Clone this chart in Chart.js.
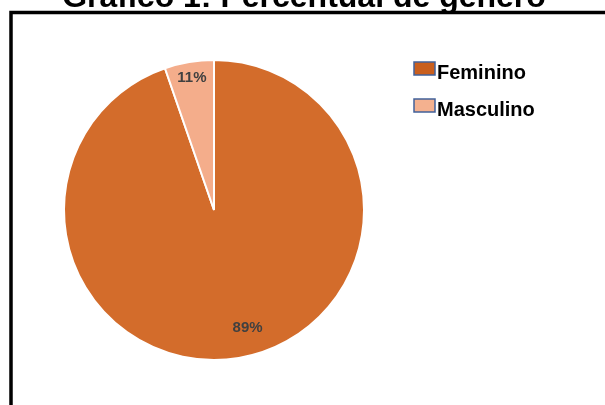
<!DOCTYPE html>
<html lang="pt">
<head>
    <meta charset="UTF-8">
    <title>Gráfico 1: Percentual de gênero</title>
    <script src="https://cdn.jsdelivr.net/npm/chart.js"></script>
    <style>
        html, body { margin: 0; padding: 0; background: #fff; }
        #wrap { position: relative; width: 605px; height: 405px; }
    </style>
</head>
<body>
    <div id="wrap">
        <canvas id="generoChart" width="605" height="405"></canvas>
    </div>

    <script>
        // Data
        const titleText = 'Gráfico 1: Percentual de gênero';
        const categories = ['Feminino', 'Masculino'];
        // slice sizes as drawn (the Masculino wedge is about 19 degrees wide)
        const sliceValues = [94.7, 5.3];
        // percentages printed on the slices
        const percentLabels = ['89%', '11%'];
        const sliceColors = ['#D36C2B', '#F4AD8B'];
        const legendColors = ['#C95F1E', '#F4B18F'];

        // frame, title, legend and slice labels
        const decorPlugin = {
            id: 'decor',
            beforeDraw(chart) {
                const ctx = chart.ctx;
                ctx.save();
                ctx.fillStyle = '#fff';
                ctx.fillRect(0, 0, chart.width, chart.height);
                // frame of the chart box
                ctx.strokeStyle = '#000';
                ctx.lineWidth = 3.5;
                ctx.beginPath();
                ctx.moveTo(11, 405);
                ctx.lineTo(11, 12.5);
                ctx.lineTo(605, 12.5);
                ctx.stroke();
                // title (cut by the top of the picture)
                ctx.fillStyle = '#000';
                ctx.font = 'bold 32px "Liberation Sans", Arial, sans-serif';
                ctx.textAlign = 'center';
                ctx.textBaseline = 'alphabetic';
                ctx.fillText(titleText, 304, 7);
                ctx.restore();
            },
            afterDraw(chart) {
                const ctx = chart.ctx;
                ctx.save();
                // legend
                categories.forEach((name, i) => {
                    const y = 62 + i * 37;
                    ctx.fillStyle = legendColors[i];
                    ctx.fillRect(414, y, 21, 13);
                    ctx.strokeStyle = '#41619A';
                    ctx.lineWidth = 1.5;
                    ctx.strokeRect(414, y, 21, 13);
                    ctx.fillStyle = '#000';
                    ctx.font = 'bold 20px "Liberation Sans", Arial, sans-serif';
                    ctx.textAlign = 'left';
                    ctx.textBaseline = 'alphabetic';
                    ctx.fillText(name, 437, y + 17);
                });
                // percentage labels on the slices
                const arcs = chart.getDatasetMeta(0).data;
                const radiusFrac = [0.82, 0.89];
                const angleNudge = [-0.11, 0];
                ctx.fillStyle = '#404040';
                ctx.font = 'bold 15px "Liberation Sans", Arial, sans-serif';
                ctx.textAlign = 'center';
                ctx.textBaseline = 'middle';
                arcs.forEach((arc, i) => {
                    const mid = (arc.startAngle + arc.endAngle) / 2 + angleNudge[i];
                    const r = arc.outerRadius * radiusFrac[i];
                    ctx.fillText(percentLabels[i], arc.x + Math.cos(mid) * r, arc.y + Math.sin(mid) * r);
                });
                ctx.restore();
            }
        };

        new Chart(document.getElementById('generoChart'), {
            type: 'pie',
            data: {
                labels: categories,
                datasets: [{
                    data: sliceValues,
                    backgroundColor: sliceColors,
                    borderColor: '#fff',
                    borderWidth: 2
                }]
            },
            options: {
                responsive: false,
                animation: false,
                layout: {
                    padding: { left: 63, right: 240, top: 59, bottom: 44 }
                },
                plugins: {
                    legend: { display: false },
                    title: { display: false },
                    tooltip: { enabled: false }
                }
            },
            plugins: [decorPlugin]
        });
    </script>
</body>
</html>
